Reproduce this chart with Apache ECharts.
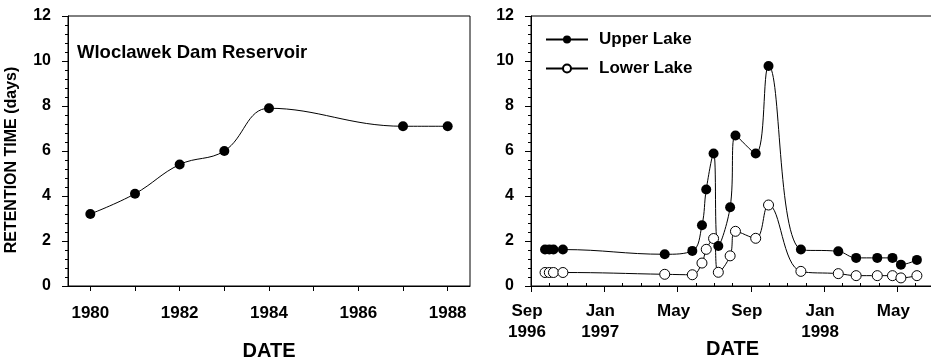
<!DOCTYPE html>
<html>
<head>
<meta charset="utf-8">
<script src="https://cdn.jsdelivr.net/npm/echarts@6/dist/echarts.min.js"></script>
<style>
  html, body { margin: 0; padding: 0; background: #fff; }
  #chart { width: 931px; height: 359px; }
</style>
</head>
<body>
<div id="chart"></div>
<script>
// left panel: Wloclawek Dam Reservoir
const damYears = [1980, 1981, 1982, 1983, 1984, 1987, 1988];
const damDays = [3.2, 4.1, 5.4, 6.0, 7.9, 7.1, 7.1];

// right panel: sampling dates and retention times
const lakeDates = [
  '1996-09-24', '1996-10-01', '1996-10-08', '1996-10-24',
  '1997-04-10', '1997-05-26', '1997-06-11', '1997-06-18', '1997-06-30',
  '1997-07-08', '1997-07-28', '1997-08-06', '1997-09-09', '1997-09-30',
  '1997-11-23', '1998-01-25', '1998-02-22', '1998-03-29', '1998-04-23',
  '1998-05-07', '1998-06-03'
];
const upperLake = [1.62, 1.62, 1.62, 1.62, 1.41, 1.56, 2.7, 4.29, 5.89, 1.78, 3.5,
  6.69, 5.89, 9.78, 1.62, 1.54, 1.25, 1.25, 1.25, 0.95, 1.16];
const lowerLake = [0.6, 0.6, 0.6, 0.6, 0.52, 0.5, 1.02, 1.63, 2.11, 0.61, 1.34,
  2.43, 2.12, 3.6, 0.65, 0.55, 0.46, 0.46, 0.46, 0.36, 0.46];

const yearTicks = [1980, 1981, 1982, 1983, 1984, 1985, 1986, 1987, 1988];
const yearLabels = [1980, 1982, 1984, 1986, 1988];
// month positions counted from Sep 1996
const monthLabels = { 0: 'Sep\n1996', 4: 'Jan\n1997', 8: 'May', 12: 'Sep', 16: 'Jan\n1998', 20: 'May' };

const FONT = 'Liberation Sans, Arial, Helvetica, sans-serif';

function monthPos(s) {
  const [y, m, d] = s.split('-').map(Number);
  const dim = new Date(y, m, 0).getDate();
  return (y - 1996) * 12 + (m - 9) + (d - 1) / dim;
}

const chart = echarts.init(document.getElementById('chart'), null, { renderer: 'canvas' });

const lbl = { color: '#000', fontFamily: FONT, fontWeight: 'bold' };
const axisLine = { show: true, onZero: false, lineStyle: { color: '#000', width: 1 } };

const yAxisBase = {
  type: 'value', min: 0, max: 12, interval: 2,
  axisLine,
  axisTick: { show: true, length: 6, lineStyle: { color: '#000' } },
  minorTick: { show: true, splitNumber: 5, length: 3, lineStyle: { color: '#000' } },
  splitLine: { show: false },
  axisLabel: { ...lbl, fontSize: 16, margin: 17 },
};

const majorMonths = [0, 4, 8, 12, 16, 20];
const minorMonths = [];
for (let i = 1; i <= 21; i++) if (i % 4 !== 0) minorMonths.push(i);

const option = {
  animation: false,
  backgroundColor: '#fff',
  grid: [
    { left: 68, top: 16, width: 402, height: 270, outerBoundsMode: 'none', containLabel: false,
      show: true, borderColor: '#000', borderWidth: 1, backgroundColor: 'transparent' },
    { left: 531, top: 16, width: 403, height: 270, outerBoundsMode: 'none', containLabel: false,
      show: true, borderColor: '#000', borderWidth: 1, backgroundColor: 'transparent' },
  ],
  xAxis: [
    {
      gridIndex: 0, type: 'value', min: 1979.5, max: 1988.5,
      axisLine,
      axisTick: { show: true, length: 5, customValues: yearTicks, lineStyle: { color: '#000' } },
      axisLabel: { ...lbl, fontSize: 17, margin: 19, customValues: yearLabels, formatter: v => String(v) },
      splitLine: { show: false },
      name: 'DATE', nameLocation: 'middle', nameGap: 55, nameMoveOverlap: false,
      nameTextStyle: { ...lbl, fontSize: 20 },
    },
    {
      gridIndex: 1, type: 'value', min: 0, max: 22,
      axisLine,
      axisTick: { show: true, length: 6, customValues: majorMonths, lineStyle: { color: '#000' } },
      axisLabel: { ...lbl, fontSize: 17, lineHeight: 21, margin: 15, padding: [0, 8, 0, 0],
        customValues: majorMonths, formatter: v => monthLabels[Math.round(v)] || '' },
      splitLine: { show: false },
      name: 'DATE', nameLocation: 'middle', nameGap: 53, nameMoveOverlap: false,
      nameTextStyle: { ...lbl, fontSize: 20 },
    },
    {
      gridIndex: 1, type: 'value', min: 0, max: 22,
      axisLine: { show: false },
      axisTick: { show: true, length: 3, customValues: minorMonths, lineStyle: { color: '#000' } },
      axisLabel: { show: false },
      splitLine: { show: false },
    },
  ],
  yAxis: [
    { ...yAxisBase, gridIndex: 0 },
    { ...yAxisBase, gridIndex: 1 },
  ],
  legend: {
    orient: 'vertical', left: 545, top: 31, padding: 0,
    itemWidth: 42, itemHeight: 10, itemGap: 12,
    textStyle: { ...lbl, fontSize: 17, padding: [0, 0, 0, 6] },
    data: ['Upper Lake', 'Lower Lake'],
  },
  graphic: [
    { type: 'text', x: 77, y: 53, style: { text: 'Wloclawek Dam Reservoir', font: 'bold 18.5px ' + FONT, fill: '#000', textVerticalAlign: 'middle' } },
    { type: 'text', x: 12, y: 160, rotation: Math.PI / 2, style: { text: 'RETENTION TIME (days)', font: 'bold 16px ' + FONT, fill: '#000', textAlign: 'center', textVerticalAlign: 'middle' } },
  ],
  series: [
    {
      name: 'Wloclawek', type: 'line', xAxisIndex: 0, yAxisIndex: 0, smooth: 0.4,
      data: damYears.map((y, i) => [y, damDays[i]]),
      symbol: 'circle', symbolSize: 10,
      lineStyle: { color: '#000', width: 1 },
      itemStyle: { color: '#000' },
    },
    {
      name: 'Lower Lake', type: 'line', xAxisIndex: 1, yAxisIndex: 1, smooth: 0.4,
      data: lakeDates.map((d, i) => [monthPos(d), lowerLake[i]]),
      symbol: 'circle', symbolSize: 10,
      lineStyle: { color: '#000', width: 1 },
      itemStyle: { color: '#fff', borderColor: '#000', borderWidth: 1 },
    },
    {
      name: 'Upper Lake', type: 'line', xAxisIndex: 1, yAxisIndex: 1, smooth: 0.4,
      data: lakeDates.map((d, i) => [monthPos(d), upperLake[i]]),
      symbol: 'circle', symbolSize: 10,
      lineStyle: { color: '#000', width: 1 },
      itemStyle: { color: '#000' },
    },
  ],
};

chart.setOption(option);
</script>
</body>
</html>
